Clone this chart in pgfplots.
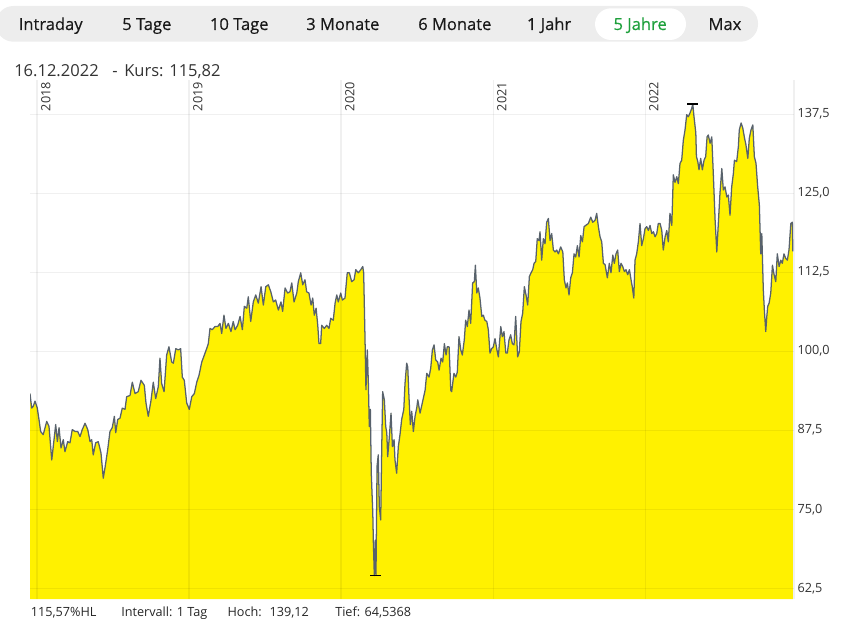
\documentclass[border=0pt]{standalone}
\usepackage{pgfplots}
\pgfplotsset{compat=1.18}
\usepackage{pgfplotstable}
\usepackage{fontspec}
\setmainfont{Open Sans}
\newfontfamily\tabfont{Open Sans}[FakeBold=0.35]

\definecolor{kursgelb}{RGB}{255,241,0}
\definecolor{kurslinie}{RGB}{88,98,108}
\definecolor{tabgrau}{RGB}{237,237,237}
\definecolor{tabgruen}{RGB}{30,160,60}
\definecolor{textgrau}{RGB}{51,51,51}

% Schlusskurse, x = Jahr (dezimal), y = Kurs
\pgfplotstableread[row sep=\\]{
x y\\
2017.954 93.3\\ 2017.965 91.0\\ 2017.976 91.3\\ 2017.987 92.1\\ 2018.002 91.0\\ 2018.013 89.2\\
2018.024 87.3\\ 2018.041 86.8\\ 2018.064 88.9\\ 2018.079 88.1\\ 2018.097 82.8\\ 2018.107 84.9\\
2018.123 88.4\\ 2018.134 85.7\\ 2018.145 87.9\\ 2018.158 84.7\\ 2018.173 86.0\\ 2018.184 84.1\\
2018.202 85.7\\ 2018.217 85.5\\ 2018.232 87.6\\ 2018.250 87.3\\ 2018.268 87.3\\ 2018.283 86.5\\
2018.298 87.6\\ 2018.316 88.6\\ 2018.334 87.6\\ 2018.349 85.7\\ 2018.360 86.0\\ 2018.370 83.6\\
2018.386 85.5\\ 2018.403 85.7\\ 2018.421 83.9\\ 2018.436 79.9\\ 2018.447 81.5\\ 2018.465 84.4\\
2018.480 87.3\\ 2018.495 87.9\\ 2018.509 89.7\\ 2018.518 87.1\\ 2018.531 89.2\\ 2018.546 89.4\\
2018.561 91.0\\ 2018.579 90.8\\ 2018.590 92.8\\ 2018.612 93.0\\ 2018.627 95.1\\ 2018.645 93.3\\
2018.666 93.6\\ 2018.684 95.4\\ 2018.706 94.6\\ 2018.717 91.8\\ 2018.732 89.7\\ 2018.750 92.2\\
2018.765 95.1\\ 2018.781 92.5\\ 2018.798 94.4\\ 2018.809 98.9\\ 2018.820 94.9\\ 2018.836 93.6\\
2018.853 99.4\\ 2018.868 100.7\\ 2018.886 98.3\\ 2018.897 98.1\\ 2018.913 100.4\\ 2018.930 100.2\\
2018.945 100.4\\ 2018.956 95.9\\ 2018.969 95.4\\ 2018.985 91.8\\ 2019.002 90.8\\ 2019.018 92.8\\
2019.035 93.3\\ 2019.051 95.1\\ 2019.066 96.2\\ 2019.084 98.3\\ 2019.101 99.4\\ 2019.116 100.4\\
2019.127 101.2\\ 2019.138 103.6\\ 2019.153 103.4\\ 2019.171 103.9\\ 2019.189 103.9\\ 2019.204 104.4\\
2019.215 102.8\\ 2019.230 105.7\\ 2019.243 103.6\\ 2019.259 104.4\\ 2019.276 103.1\\ 2019.291 104.7\\
2019.303 103.4\\ 2019.320 104.1\\ 2019.336 105.5\\ 2019.351 103.4\\ 2019.364 107.1\\ 2019.380 106.8\\
2019.390 108.6\\ 2019.406 104.7\\ 2019.423 107.8\\ 2019.439 108.9\\ 2019.456 107.6\\ 2019.474 110.2\\
2019.489 107.3\\ 2019.505 110.2\\ 2019.522 110.5\\ 2019.538 109.4\\ 2019.555 107.8\\ 2019.570 108.1\\
2019.588 106.5\\ 2019.605 107.8\\ 2019.616 106.3\\ 2019.632 110.0\\ 2019.649 109.2\\ 2019.664 109.4\\
2019.676 110.8\\ 2019.691 107.8\\ 2019.709 109.2\\ 2019.719 111.0\\ 2019.735 112.4\\ 2019.748 110.5\\
2019.763 111.3\\ 2019.774 109.4\\ 2019.789 109.2\\ 2019.803 107.3\\ 2019.814 108.4\\ 2019.824 105.7\\
2019.836 106.8\\ 2019.847 104.1\\ 2019.855 101.2\\ 2019.866 101.2\\ 2019.873 104.1\\ 2019.890 103.6\\
2019.906 104.1\\ 2019.921 103.6\\ 2019.932 105.2\\ 2019.949 104.9\\ 2019.961 107.6\\ 2019.972 108.9\\
2019.982 107.8\\ 2019.998 109.2\\ 2020.009 108.1\\ 2020.026 108.4\\ 2020.041 112.4\\ 2020.055 112.4\\
2020.070 111.0\\ 2020.086 111.3\\ 2020.097 112.9\\ 2020.114 112.4\\ 2020.130 112.9\\ 2020.143 113.4\\
2020.149 112.4\\ 2020.158 101.8\\ 2020.164 93.9\\ 2020.173 100.2\\ 2020.180 94.9\\ 2020.186 88.1\\
2020.193 90.8\\ 2020.199 80.7\\ 2020.209 74.4\\ 2020.213 69.6\\ 2020.219 64.5\\ 2020.226 70.1\\
2020.230 64.6\\ 2020.237 81.8\\ 2020.245 83.6\\ 2020.252 75.4\\ 2020.261 73.3\\ 2020.268 84.9\\
2020.274 93.6\\ 2020.285 92.3\\ 2020.294 88.1\\ 2020.301 87.1\\ 2020.307 83.3\\ 2020.318 86.5\\
2020.329 90.2\\ 2020.338 84.9\\ 2020.349 86.0\\ 2020.355 82.8\\ 2020.366 80.7\\ 2020.377 84.9\\
2020.388 86.8\\ 2020.399 89.2\\ 2020.413 90.8\\ 2020.421 94.9\\ 2020.432 98.1\\ 2020.439 97.5\\
2020.447 92.8\\ 2020.456 88.4\\ 2020.465 90.5\\ 2020.476 87.3\\ 2020.487 89.7\\ 2020.498 91.0\\
2020.505 92.3\\ 2020.520 90.2\\ 2020.541 92.5\\ 2020.553 93.8\\ 2020.564 96.5\\ 2020.579 95.9\\
2020.590 97.3\\ 2020.601 100.2\\ 2020.612 101.0\\ 2020.623 98.6\\ 2020.636 98.3\\ 2020.645 97.0\\
2020.658 98.9\\ 2020.669 98.3\\ 2020.680 101.2\\ 2020.691 99.4\\ 2020.699 100.7\\ 2020.711 100.7\\
2020.722 93.8\\ 2020.728 93.6\\ 2020.743 96.5\\ 2020.755 95.9\\ 2020.765 96.7\\ 2020.776 102.3\\
2020.788 100.2\\ 2020.798 99.4\\ 2020.811 101.8\\ 2020.820 104.9\\ 2020.831 103.9\\ 2020.842 106.5\\
2020.853 104.4\\ 2020.866 110.8\\ 2020.877 111.0\\ 2020.884 113.6\\ 2020.893 109.2\\ 2020.903 110.0\\
2020.914 108.4\\ 2020.926 105.5\\ 2020.936 105.7\\ 2020.947 104.9\\ 2020.959 104.7\\ 2020.969 103.4\\
2020.980 99.7\\ 2020.991 100.4\\ 2021.002 100.7\\ 2021.013 102.0\\ 2021.024 100.4\\ 2021.035 99.1\\
2021.051 103.9\\ 2021.061 102.3\\ 2021.072 103.1\\ 2021.084 99.7\\ 2021.094 99.7\\ 2021.105 101.8\\
2021.116 102.6\\ 2021.127 101.2\\ 2021.138 101.0\\ 2021.149 105.5\\ 2021.162 99.1\\ 2021.173 99.9\\
2021.184 104.7\\ 2021.195 106.0\\ 2021.206 110.2\\ 2021.217 108.9\\ 2021.228 107.3\\ 2021.239 111.8\\
2021.250 112.4\\ 2021.261 112.9\\ 2021.270 113.9\\ 2021.281 114.2\\ 2021.291 117.8\\ 2021.303 117.5\\
2021.309 118.9\\ 2021.320 114.4\\ 2021.331 117.8\\ 2021.342 117.0\\ 2021.353 120.4\\ 2021.364 121.0\\
2021.375 117.5\\ 2021.386 118.6\\ 2021.397 116.0\\ 2021.408 115.7\\ 2021.419 116.0\\ 2021.430 115.4\\
2021.445 116.5\\ 2021.459 115.7\\ 2021.469 111.3\\ 2021.480 110.0\\ 2021.489 110.8\\ 2021.500 108.9\\
2021.511 111.6\\ 2021.522 112.4\\ 2021.533 115.4\\ 2021.544 114.9\\ 2021.555 116.7\\ 2021.566 114.9\\
2021.577 118.3\\ 2021.588 117.3\\ 2021.599 119.7\\ 2021.610 119.9\\ 2021.627 120.2\\ 2021.643 121.2\\
2021.656 120.4\\ 2021.671 120.7\\ 2021.682 121.8\\ 2021.693 119.7\\ 2021.704 118.1\\ 2021.715 117.3\\
2021.726 113.9\\ 2021.737 113.7\\ 2021.752 111.6\\ 2021.765 113.9\\ 2021.776 112.4\\ 2021.788 115.2\\
2021.798 113.9\\ 2021.809 115.4\\ 2021.820 116.0\\ 2021.831 112.6\\ 2021.842 113.9\\ 2021.853 113.4\\
2021.864 112.6\\ 2021.875 112.9\\ 2021.886 112.1\\ 2021.897 112.9\\ 2021.908 111.3\\ 2021.916 110.2\\
2021.926 108.4\\ 2021.934 114.4\\ 2021.945 115.4\\ 2021.956 117.3\\ 2021.967 120.2\\ 2021.978 116.7\\
2021.989 117.8\\ 2022.000 119.4\\ 2022.011 119.7\\ 2022.022 119.1\\ 2022.033 119.9\\ 2022.044 118.6\\
2022.055 118.9\\ 2022.066 118.1\\ 2022.077 118.6\\ 2022.087 120.2\\ 2022.099 120.2\\ 2022.110 119.1\\
2022.120 116.0\\ 2022.132 118.1\\ 2022.143 119.1\\ 2022.153 117.3\\ 2022.164 121.8\\ 2022.176 119.9\\
2022.186 127.9\\ 2022.197 126.7\\ 2022.209 127.6\\ 2022.219 126.5\\ 2022.230 129.7\\ 2022.241 130.2\\
2022.252 133.4\\ 2022.263 135.0\\ 2022.274 137.4\\ 2022.285 137.1\\ 2022.296 137.7\\ 2022.307 138.4\\
2022.314 139.1\\ 2022.322 137.1\\ 2022.334 134.5\\ 2022.338 130.8\\ 2022.347 130.0\\ 2022.355 128.7\\
2022.366 130.5\\ 2022.377 128.7\\ 2022.388 130.2\\ 2022.399 130.8\\ 2022.408 133.9\\ 2022.416 134.2\\
2022.428 132.9\\ 2022.439 133.9\\ 2022.449 128.1\\ 2022.461 120.7\\ 2022.472 115.7\\ 2022.482 120.2\\
2022.493 125.0\\ 2022.505 128.9\\ 2022.515 125.5\\ 2022.526 126.0\\ 2022.538 124.4\\ 2022.548 124.7\\
2022.559 121.5\\ 2022.570 126.0\\ 2022.581 128.1\\ 2022.588 130.2\\ 2022.603 130.0\\ 2022.614 132.4\\
2022.620 135.0\\ 2022.632 136.1\\ 2022.643 135.3\\ 2022.653 133.9\\ 2022.664 132.6\\ 2022.676 130.5\\
2022.686 133.7\\ 2022.697 135.0\\ 2022.709 135.8\\ 2022.719 130.8\\ 2022.730 129.7\\ 2022.741 126.0\\
2022.752 123.1\\ 2022.761 115.4\\ 2022.768 118.6\\ 2022.778 109.7\\ 2022.785 106.5\\ 2022.794 103.1\\
2022.801 105.5\\ 2022.807 107.1\\ 2022.816 107.6\\ 2022.827 109.2\\ 2022.838 113.6\\ 2022.849 112.1\\
2022.860 111.0\\ 2022.870 115.4\\ 2022.882 113.4\\ 2022.893 114.4\\ 2022.903 113.9\\ 2022.914 115.4\\
2022.925 114.7\\ 2022.936 114.4\\ 2022.947 116.0\\ 2022.959 120.2\\ 2022.969 120.4\\ 2022.972 115.8\\
}\kurs

\begin{document}
\begin{tikzpicture}[x=0.75pt,y=0.75pt]
\useasboundingbox (0,0) rectangle (841,618);

% Zeitraum-Auswahl
\fill[tabgrau, rounded corners=13pt] (-4,576.3) rectangle (758,612);
\fill[white, rounded corners=12pt] (595,578) rectangle (686,609.7);
\begin{scope}[every node/.style={anchor=base west, inner sep=0pt,
    font=\tabfont\fontsize{12.4}{14}\selectfont, text=black!90}]
\node at (18.5,588) {Intraday};
\node at (122,588) {5 Tage};
\node at (209.7,588) {10 Tage};
\node at (306,588) {3 Monate};
\node at (418,588) {6 Monate};
\node at (526.7,588) {1 Jahr};
\node[text=tabgruen] at (613.3,588) {5 Jahre};
\node at (708.3,588) {Max};
\end{scope}

% Kopfzeile
\begin{scope}[every node/.style={anchor=base west, inner sep=0pt,
    font=\fontsize{12.4}{14}\selectfont, text=textgrau}]
\node at (14,541) {16.12.2022};
\node at (112,541) {-};
\node at (124,541) {Kurs: 115,82};
\end{scope}

\begin{axis}[
  at={(22.5pt,14.25pt)}, anchor=south west,
  scale only axis, width=573pt, height=389.25pt,
  xmin=2017.954, xmax=2022.980, ymin=60.8, ymax=142.9,
  axis line style={draw=none},
  axis on top,
  major tick length=0pt,
  xtick={2018,2019,2020,2021,2022},
  xticklabels={2018,2019,2020,2021,2022},
  extra x ticks={2022.98}, extra x tick labels={},
  ytick={62.5,75,87.5,100,112.5,125,137.5},
  xmajorgrids, ymajorgrids,
  grid style={black, opacity=0.06, line width=0.8pt},
  xticklabel pos=upper, yticklabel pos=right,
  ticklabel style={font=\fontsize{9.5}{11}\selectfont, text=textgrau},
  xticklabel style={inner sep=0pt, xshift=3pt, yshift=-1.5pt, rotate=90, anchor=north east},
  yticklabel style={inner sep=0pt, anchor=west, xshift=2.5pt,
    /pgf/number format/.cd, fixed, fixed zerofill, precision=1, use comma,
    assume math mode=true, /tikz/.cd},
]
\addplot[fill=kursgelb, draw=none] table {\kurs} \closedcycle;
\addplot[kurslinie, line width=0.95pt, line join=round] table {\kurs};
% Hoch und Tief
\addplot[only marks, mark=-, mark size=3.9pt, mark options={black, line width=1.1pt}]
  coordinates {(2022.3125,139.12) (2020.227,64.54)};
\end{axis}

% Fusszeile
\begin{scope}[every node/.style={anchor=base west, inner sep=0pt,
    font=\fontsize{9.5}{11}\selectfont, text=black!85}]
\node at (30.5,1.5) {115,57\%HL};
\node at (121,1.5) {Intervall: 1 Tag};
\node at (227.3,1.5) {Hoch:};
\node at (269.3,1.5) {139,12};
\node at (335,1.5) {Tief: 64,5368};
\end{scope}
\end{tikzpicture}
\end{document}
